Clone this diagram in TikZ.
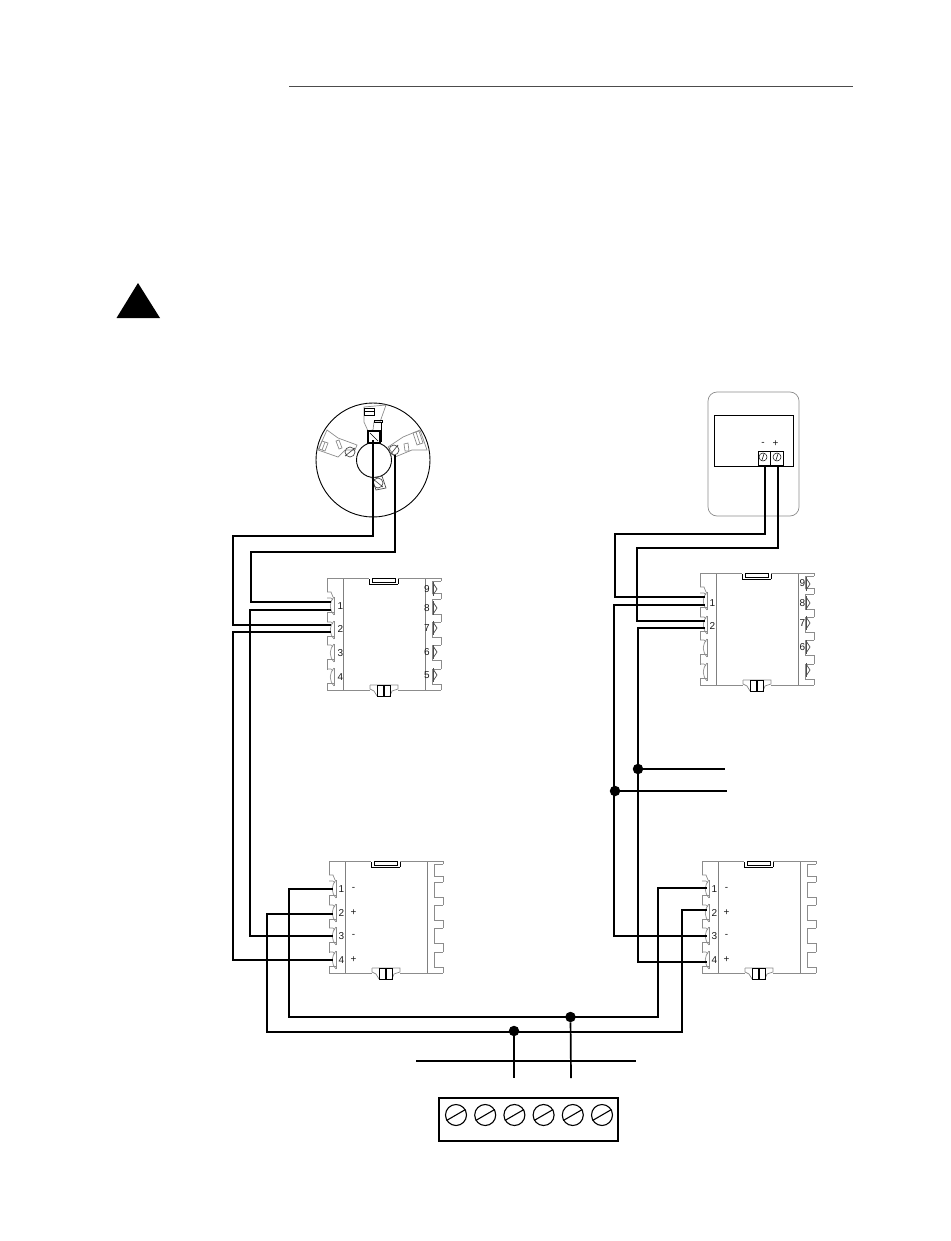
\documentclass[tikz,border=0pt]{standalone}
\usepackage{fontspec}
\setmainfont{Liberation Sans}
\usetikzlibrary{calc}
\tikzset{
  wire/.style={line width=1.7pt,line join=miter},
  outline/.style={line width=0.7pt,black!45},
  rail/.style={line width=0.9pt,black!50},
  junction/.style={circle,fill=black,inner sep=0pt,minimum size=10.5pt},
  digit/.style={inner sep=0pt,font=\fontsize{10}{11}\selectfont,black!90},
  screw/.style={circle,draw,line width=1.1pt,minimum size=21pt,inner sep=0pt},
  relay/.pic={code={%
      % rails and top edge
      \draw [rail] (16.5,0) -- (16.5,112);
      \draw [rail] (98,0) -- (98,112);
      \draw [outline] (0,0) -- (42,0) (71,0) -- (114,0) -- (114,3);
      \draw [outline] (0,112) -- (43,112) (71,112) -- (114,112);
      % left side
      \draw [outline] (0,0) -- (0,14) (0,34) -- (0,44) (0,58) -- (0,67) (0,82) -- (0,92) (0,106) -- (0,112);
      \draw [outline] (0,14) -- (4,14) -- (6,19);
      \foreach \yc in {28,52,75,99} {
        \draw [outline] (0,\yc-8) -- (4,\yc-8) -- (6,\yc-6);
        \draw [outline] (7,\yc+6) -- (0,\yc+6);
        \draw [outline] (7,\yc-9) -- (7,\yc+9);
        \draw [outline] (7,\yc-9) .. controls (2,\yc-3) and (2,\yc+3) .. (7,\yc+9);
      }
      % right side
      \foreach \ya/\yb in {3/15,21/36,44/59,67/82,91/106} {
        \draw [outline] (114,\ya) -- (105,\ya) -- (105,\yb) -- (114,\yb);
      }
      \foreach \ya/\yb in {15/21,36/44,59/67,82/91,106/112} {
        \draw [outline] (114,\ya) -- (114,\yb);
      }
      % top slot
      \draw [line width=0.8pt] (45,0.5) rectangle (68,4.5);
      \draw [line width=1pt] (42,6) -- (71,6);
      \draw [line width=0.8pt] (42,1) -- (42,6) (71,1) -- (71,6);
      % bottom connector
      \draw [outline] (43,107) -- (71,107) -- (71,111) -- (65,113) -- (63,118);
      \draw [outline] (43,107) -- (43,111) -- (47,113) -- (50,118);
      \draw [line width=0.9pt] (50,107) rectangle (56,118);
      \draw [line width=0.9pt] (57.5,107) rectangle (63,118);
  }},
  pins/.pic={code={%
      \foreach \yc in {11,30,50,74,97} {
        \draw [outline,black!70] (106,\yc-7) -- (106,\yc+7);
        \draw [outline,black!70] (106,\yc-6) -- (110,\yc) -- (106,\yc+6);
      }
  }}
}
\begin{document}
\begin{tikzpicture}[x=1pt,y=-1pt]
    \useasboundingbox (0,0) rectangle (950,1241);
    % header and warning sign
    \coordinate (rule a) at (289,86);
    \coordinate (rule b) at (853,86);
    \draw [line width=0.7pt,black!70] (rule a) -- (rule b);
    \fill (138,283) -- (160,318) -- (116.5,318) -- cycle;
    % set coordinates
    \coordinate (ra) at (327,578);
    \coordinate (rb) at (700,573);
    \coordinate (rc) at (329,861);
    \coordinate (rd) at (702,861);
    \coordinate (det a) at (373,440);
    \coordinate (det b) at (395,455);
    \coordinate (sen a) at (765,465);
    \coordinate (sen b) at (778,465);
    \coordinate (ra1u) at (331,602);
    \coordinate (ra1l) at (331,610);
    \coordinate (ra2u) at (331,625);
    \coordinate (ra2l) at (331,632);
    \coordinate (rb1u) at (705,597);
    \coordinate (rb1l) at (705,605);
    \coordinate (rb2u) at (705,621);
    \coordinate (rb2l) at (705,628);
    \coordinate (rc1) at (333,889);
    \coordinate (rc2) at (333,914);
    \coordinate (rc3) at (333,936);
    \coordinate (rc4) at (333,960);
    \coordinate (rd1) at (707,888);
    \coordinate (rd2) at (707,910);
    \coordinate (rd3) at (707,936);
    \coordinate (rd4) at (707,962);
    \coordinate (out a) at (725,769);
    \coordinate (out b) at (727,791);
    \coordinate (bus a) at (416,1061);
    \coordinate (bus b) at (636,1061);
    \coordinate (drop a) at (514,1078);
    \coordinate (drop b) at (571,1078);
    % detector base
    \begin{scope}[outline]
    \draw [line width=0.9pt,black] (373,460) circle (57);
    \draw [line width=0.9pt,black] (374,460) circle (17.5);
    \draw (364,407) -- (386,405) -- (380,422) -- (374,422) -- (373,430) -- (368,431) -- (364,422) -- cycle;
    \draw (327,430) -- (318,450) -- (338,457) -- (345,450) -- (355,450) -- (357,445) -- (338,438) -- cycle;
    \draw (388,447) -- (395,457) -- (412,450) -- (427,450) -- (420,430) -- (403,437) -- cycle;
    \draw (322,441) -- (328,443) -- (325,451) -- (319,449) -- cycle (325,442) -- (322,450);
    \draw (413,433) -- (419,431) -- (423,443) -- (417,445) -- cycle (416,432) -- (420,444);
    \draw (336,441) -- (339,449) -- (342,448) -- (339,440) -- cycle;
    \draw (408,443) -- (409,451) -- (405,451) -- (404,444) -- cycle;
    \draw [black!70] (350,452) circle (5) (345,456) -- (355,448);
    \draw [black!70] (394,450) circle (5) (390,455) -- (398,445);
    \draw [black!70] (372,478) -- (382,476) -- (386,488) -- (376,490) -- cycle;
    \draw [black!70] (378,483) circle (5) (373,479) -- (383,487);
    \end{scope}
    \draw [line width=1pt] (364,408) rectangle (374,415) (364,411.5) -- (374,411.5);
    \draw [line width=1pt] (374,420) rectangle (382,422.5);
    \draw [line width=1pt] (381,422) -- (381,442);
    \draw [line width=1.2pt] (368,431) rectangle (380,443);
    \draw [line width=0.7pt] (370,433) -- (378,441);
    % sensor housing
    \draw [outline,rounded corners=9pt] (708,392) rectangle (799,516);
    \draw [line width=0.9pt] (714,415) rectangle (793,466);
    \draw [line width=0.9pt] (758,451) rectangle (783,465) (770,451) -- (770,465);
    \draw [line width=0.5pt] (763,457) circle (4) (777,457) circle (4);
    \draw [line width=0.5pt] (762,460) -- (764,454) (776,460) -- (778,454);
    \node [digit] (sen minus) at (763,444) {-};
    \node [digit] (sen plus) at (775.5,444) {+};
    % draw relays
    \pic at (ra) {relay};
    \pic at (ra) {pins};
    \pic at (rb) {relay};
    \pic at (rb) {pins};
    \pic at (rc) {relay};
    \pic at (rd) {relay};
    % add labels
    \foreach \n/\y in {1/28,2/51,3/75,4/99}
      \node [digit] (ra\n n) at ([shift={(13.5,\y)}]ra) {\n};
    \foreach \n/\y in {9/11,8/30,7/50,6/74,5/97}
      \node [digit] (ra\n n) at ([shift={(100,\y)}]ra) {\n};
    \foreach \n/\y in {1/30,2/53}
      \node [digit] (rb\n n) at ([shift={(12.5,\y)}]rb) {\n};
    \foreach \n/\y in {9/10,8/30,7/50,6/74}
      \node [digit] (rb\n n) at ([shift={(102.5,\y)}]rb) {\n};
    \foreach \s/\n/\y in {rc/1/28,rc/2/52,rc/3/75,rc/4/99,rd/1/28,rd/2/52,rd/3/75,rd/4/99}
      \node [digit] (\s\n n) at ([shift={(12.5,\y)}]\s) {\n};
    \foreach \s/\m/\y in {rc/-/28,rc/+/52,rc/-/75,rc/+/99,rd/-/28,rd/+/52,rd/-/75,rd/+/99}
      \node [digit] at ([shift={(24.5,\y)}]\s) {\m};
    % draw wires
    \draw [wire] (det a) |- (233,536) |- (ra2u);
    \draw [wire] (det b) |- (251,552) |- (ra1u);
    \draw [wire] (ra1l) -| (250,936) -- (rc3);
    \draw [wire] (ra2l) -| (233,960) -- (rc4);
    \draw [wire] (rc1) -| (289,1017) -| (658,888) -- (rd1);
    \draw [wire] (rc2) -| (267,1032) -| (682,910) -- (rd2);
    \draw [wire] (sen a) |- (615,534) |- (rb1u);
    \draw [wire] (sen b) |- (637,548) |- (rb2u);
    \draw [wire] (rb1l) -| (614,936) -- (rd3);
    \draw [wire] (rb2l) -| (638,962) -- (rd4);
    % branches
    \node [junction] (dot a) at (638,769) {};
    \node [junction] (dot b) at (615,791) {};
    \node [junction] (dot c) at (514,1031) {};
    \node [junction] (dot d) at (570.5,1017) {};
    \draw [wire] (dot a) -- (out a);
    \draw [wire] (dot b) -- (out b);
    \draw [wire] (dot c) -- (drop a);
    \draw [wire] (dot d) -- (drop b);
    \draw [wire] (bus a) -- (bus b);
    % terminal block
    \draw [line width=1.2pt] (439,1098) rectangle (618,1141);
    \foreach \i in {0,...,5} {
      \node [screw] (scr\i) at (456+29.2*\i,1115) {};
      \draw [line width=1.1pt] (scr\i.210) -- (scr\i.30);
    }
\end{tikzpicture}
\end{document}
